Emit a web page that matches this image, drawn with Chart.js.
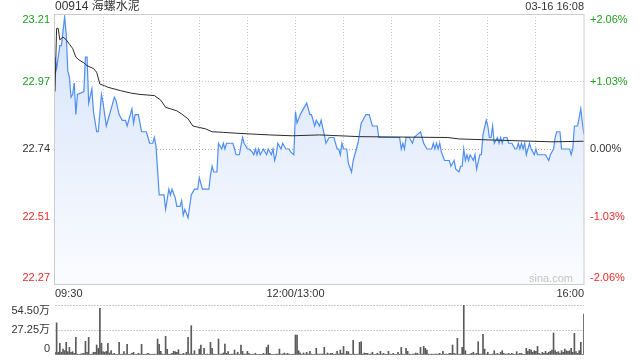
<!DOCTYPE html>
<html>
<head>
<meta charset="utf-8">
<script src="https://cdn.jsdelivr.net/npm/chart.js@4.4.1/dist/chart.umd.min.js"></script>
<style>
  html, body { margin: 0; padding: 0; background: #fff; }
  #wrap { position: relative; width: 640px; height: 360px; }
  #priceBox { position: absolute; left: 0; top: 0; width: 640px; height: 300px; }
  #volBox { position: absolute; left: 0; top: 300px; width: 640px; height: 60px; }
</style>
</head>
<body>
<div id="wrap">
  <div id="priceBox"><canvas id="priceChart"></canvas></div>
  <div id="volBox"><canvas id="volChart"></canvas></div>
</div>
<script>
const stockTitle = '00914 海螺水泥';
const stampText = '03-16 16:08';

// minutes after 09:30 in trading time (lunch break removed)
const priceMinutes = [0, 1, 3, 4, 6, 7, 8, 9, 10, 11, 12, 13, 14, 18, 19, 20, 21, 23, 24, 26,
  27, 29, 30, 32, 34, 35, 37, 38, 40, 42, 44, 45, 47, 48, 49, 50, 52, 54, 57, 58,
  59, 61, 62, 63, 65, 68, 69, 71, 72, 73, 75, 76, 78, 79, 80, 81, 83, 85, 87, 89,
  90, 92, 96, 97, 98, 99, 101, 102, 104, 105, 106, 107, 111, 113, 115, 117, 118, 120, 121, 123,
  124, 125, 126, 127, 128, 130, 132, 133, 135, 136, 137, 138, 139, 141, 142, 144, 146, 147, 149, 150,
  151, 153, 154, 156, 157, 159, 160, 162, 163, 164, 165, 166, 168, 169, 171, 174, 176, 177, 178, 179,
  180, 182, 183, 185, 186, 188, 189, 191, 192, 194, 196, 198, 201, 202, 215, 216, 217, 218, 219, 221,
  223, 224, 226, 228, 229, 230, 232, 235, 236, 237, 238, 239, 240, 241, 243, 246, 247, 249, 250, 252,
  253, 254, 255, 256, 257, 258, 259, 261, 262, 263, 265, 266, 267, 269, 270, 271, 272, 273, 274, 276,
  277, 278, 279, 280, 282, 283, 285, 287, 288, 289, 290, 291, 292, 293, 294, 295, 296, 297, 299, 300,
  301, 306, 308, 309, 311, 312, 313, 315, 316, 318, 321, 322, 323, 324, 326, 327, 328, 329, 330];
const priceValues = [23.06, 23.02, 23.10, 23.10, 23.20, 23.14, 23.01, 22.99, 22.92, 22.93, 22.97, 22.86, 22.93, 22.94, 23.06, 23.06, 22.90, 22.95, 22.87, 22.80,
  22.80, 22.93, 22.90, 22.82, 22.86, 22.88, 22.92, 22.91, 22.86, 22.84, 22.84, 22.82, 22.86, 22.88, 22.83, 22.86, 22.86, 22.80, 22.80, 22.78,
  22.76, 22.76, 22.78, 22.75, 22.58, 22.58, 22.53, 22.60, 22.58, 22.60, 22.57, 22.54, 22.54, 22.56, 22.51, 22.53, 22.50, 22.58, 22.60, 22.60,
  22.64, 22.60, 22.60, 22.65, 22.68, 22.66, 22.66, 22.76, 22.74, 22.76, 22.74, 22.76, 22.76, 22.72, 22.72, 22.78, 22.76, 22.74, 22.74, 22.73,
  22.72, 22.74, 22.72, 22.74, 22.72, 22.74, 22.72, 22.74, 22.72, 22.74, 22.70, 22.72, 22.76, 22.74, 22.76, 22.74, 22.74, 22.73, 22.72, 22.87,
  22.83, 22.86, 22.87, 22.89, 22.90, 22.86, 22.86, 22.82, 22.84, 22.83, 22.82, 22.84, 22.79, 22.76, 22.78, 22.78, 22.74, 22.74, 22.72, 22.76,
  22.74, 22.74, 22.69, 22.66, 22.70, 22.74, 22.76, 22.83, 22.84, 22.86, 22.86, 22.82, 22.82, 22.78, 22.78, 22.74, 22.76, 22.74, 22.78, 22.78,
  22.76, 22.78, 22.79, 22.80, 22.78, 22.76, 22.74, 22.74, 22.76, 22.74, 22.76, 22.74, 22.76, 22.73, 22.70, 22.70, 22.68, 22.70, 22.67, 22.66,
  22.68, 22.68, 22.74, 22.70, 22.72, 22.70, 22.72, 22.70, 22.72, 22.67, 22.72, 22.72, 22.79, 22.84, 22.82, 22.78, 22.78, 22.82, 22.76, 22.78,
  22.76, 22.78, 22.76, 22.78, 22.78, 22.76, 22.76, 22.74, 22.74, 22.76, 22.74, 22.76, 22.74, 22.76, 22.72, 22.74, 22.76, 22.74, 22.72, 22.74,
  22.72, 22.72, 22.70, 22.72, 22.74, 22.78, 22.80, 22.80, 22.74, 22.74, 22.74, 22.72, 22.74, 22.82, 22.82, 22.85, 22.88, 22.83, 22.79];

const avgMinutes = [0, 1, 2, 3, 5, 7, 9, 11, 13, 15, 18, 20, 24, 26, 28, 31, 33, 41, 47, 53,
  62, 66, 69, 72, 76, 79, 83, 86, 90, 94, 98, 105, 113, 123, 134, 148, 165, 190, 245, 252,
  280, 310, 330];
const avgValues = [22.94, 23.16, 23.16, 23.12, 23.13, 23.12, 23.105, 23.09, 23.06, 23.05, 23.04, 23.03, 23.02, 23.007, 22.966, 22.96, 22.955, 22.943, 22.935, 22.93,
  22.926, 22.91, 22.885, 22.88, 22.873, 22.862, 22.845, 22.82, 22.815, 22.81, 22.80, 22.798, 22.795, 22.792, 22.789, 22.786, 22.789, 22.783, 22.78, 22.775,
  22.77, 22.765, 22.767];

// one bar per minute, in 万股
const volumes = [
  3, 35, 3, 12.7, 3, 6.5, 4.7, 13.8, 3.6, 8.3,
  3, 3.6, 1.8, 19.2, 1, 0.7, 1, 1.5, 1.8, 14.9,
  3, 19.2, 0.7, 1, 3, 3, 10.9, 7.3, 50.8, 12.7,
  3.6, 3, 4, 12.7, 2.2, 4.7, 1, 1.8, 0.7, 0.4,
  13.8, 0.7, 1, 3.6, 1, 11.6, 0.4, 0.4, 1.8, 3,
  0.7, 0.4, 1.8, 1, 11.6, 0.4, 0.7, 1, 1.8, 1,
  0.7, 0.4, 1, 0.4, 17.4, 11.6, 4, 1, 0.7, 20.3,
  6.2, 0.7, 1, 1.8, 4, 3.6, 3, 5.8, 1, 0.7,
  1.8, 1, 3, 19.2, 1, 32, 1, 4.7, 0.4, 0.4,
  6.5, 10.9, 0.4, 7.3, 0.4, 1, 0.4, 13.8, 7.3, 1,
  0.7, 0.4, 17.4, 1, 1, 2.2, 12, 1.8, 3.6, 0.4,
  1, 1, 5.4, 1, 3, 0.4, 10.9, 4, 1, 1,
  4, 1.8, 0.4, 0.4, 0.4, 1.8, 0.4, 0.7, 0.7, 0.7,
  1.8, 1, 8.3, 10.9, 1.8, 0.4, 0.4, 0.4, 1, 1,
  6.5, 1, 1, 2.2, 1, 1.8, 1, 0.4, 0.7, 1,
  21.8, 21.8, 4.7, 2.2, 0.4, 2.2, 1, 3, 1, 4,
  1, 0.4, 0.7, 7.3, 1, 1, 1, 1, 8.3, 0.4,
  2.2, 1, 1.8, 1.8, 0.4, 1, 4, 1, 5.4, 1.8,
  9.4, 1, 4, 3.6, 1, 0.4, 16, 1, 0.4, 1,
  13.8, 14.5, 1, 2.2, 1.8, 1.8, 0.4, 1, 3, 0.4,
  0.4, 1.8, 0.4, 4, 1, 1.8, 0.4, 0.4, 4, 1,
  0.4, 1.8, 0.4, 0.4, 3, 0.4, 8.3, 1, 0.4, 7.3,
  4, 1, 0.4, 1, 1, 2.2, 1.8, 0.4, 8.3, 1,
  9.4, 7.3, 5.4, 1, 0.4, 1, 0.4, 1, 1, 1,
  1.8, 0.4, 4, 1, 1, 0.4, 1.8, 1.8, 10.9, 1.8,
  1, 18.2, 0.4, 1, 8.3, 54.5, 4.7, 0.4, 0.4, 1,
  1.8, 3, 1, 1.8, 14.5, 1, 1, 22.5, 6.5, 1,
  3, 0.4, 0.4, 1, 4.7, 1, 1.8, 0.4, 3, 4.7,
  1.8, 1, 1, 1.8, 0.4, 1.8, 1, 0.4, 3.6, 1,
  1.8, 1.8, 0.4, 0.4, 7.3, 4, 6.2, 5.4, 3, 4.7,
  4, 9.4, 1.8, 1, 3, 1.8, 4, 1.8, 3, 4,
  5.4, 24, 4.7, 3, 3.6, 1.8, 4.7, 3, 6.5, 4.7,
  4, 4.7, 7.3, 3, 23.6, 3.6, 1.8, 4.7, 13.8, 0.4,
  44.7
];

const priceTicks = [22.27, 22.505, 22.74, 22.975, 23.21];
const priceTickLabels = ['22.27', '22.51', '22.74', '22.97', '23.21'];
const pctTickLabels = ['-2.06%', '-1.03%', '0.00%', '+1.03%', '+2.06%'];
const timeTickMinutes = [0, 150, 330];
const timeTickLabels = ['09:30', '12:00/13:00', '16:00'];
const volTicks = [0, 27.25, 54.5];
const volTickLabels = ['0', '27.25万', '54.50万'];

const FONT = "'Liberation Sans', 'Noto Sans CJK SC', sans-serif";
const UP = '#1f9f1f', DOWN = '#ee2a2a', FLAT = '#333';
Chart.defaults.font.family = FONT;
Chart.defaults.font.size = 11;
Chart.defaults.color = '#333';

function levelColor(i, mid) {
  if (i > mid) return UP;
  if (i < mid) return DOWN;
  return FLAT;
}

function drawSideLabels(chart, ticks, leftLabels, rightLabels, colorFn) {
  const ctx = chart.ctx;
  const area = chart.chartArea;
  const scale = chart.scales.y;
  ctx.save();
  ctx.font = '11px ' + FONT;
  ctx.textBaseline = 'middle';
  ticks.forEach(function(v, i) {
    let y = scale.getPixelForValue(v);
    y = Math.min(Math.max(y, area.top + 6), area.bottom - 6);
    ctx.fillStyle = colorFn(i);
    ctx.textAlign = 'right';
    ctx.fillText(leftLabels[i], area.left - 5, y);
    if (rightLabels) {
      ctx.textAlign = 'left';
      ctx.fillText(rightLabels[i], area.right + 6, y);
    }
  });
  ctx.restore();
}

const priceDecor = {
  id: 'priceDecor',
  afterDatasetsDraw(chart) {
    const ctx = chart.ctx;
    const area = chart.chartArea;
    ctx.save();
    ctx.font = '11px ' + FONT;
    ctx.fillStyle = '#c4c4c4';
    ctx.textAlign = 'right';
    ctx.textBaseline = 'middle';
    ctx.fillText('sina.com', area.right - 11, area.bottom - 5);
    ctx.restore();
  },
  afterDraw(chart) {
    const ctx = chart.ctx;
    const area = chart.chartArea;
    ctx.save();
    ctx.strokeStyle = '#cccccc';
    ctx.lineWidth = 1;
    ctx.strokeRect(area.left - 0.5, area.top + 0.5, area.right - area.left + 0.5, area.bottom - area.top);
    ctx.fillStyle = '#333';
    ctx.textBaseline = 'middle';
    ctx.font = '12px ' + FONT;
    ctx.textAlign = 'left';
    ctx.fillText(stockTitle, area.left, 7);
    ctx.font = '11px ' + FONT;
    ctx.textAlign = 'right';
    ctx.fillText(stampText, area.right, 7);
    ctx.restore();
    drawSideLabels(chart, priceTicks, priceTickLabels, pctTickLabels, i => levelColor(i, 2));
  }
};

const volDecor = {
  id: 'volDecor',
  afterDraw(chart) {
    drawSideLabels(chart, volTicks, volTickLabels, null, () => '#333');
  }
};

new Chart(document.getElementById('priceChart'), {
  type: 'line',
  data: {
    datasets: [{
      label: 'avg',
      data: avgMinutes.map((m, i) => ({ x: m, y: avgValues[i] })),
      borderColor: '#2b2b2b',
      borderWidth: 1,
      pointRadius: 0,
      tension: 0,
      fill: false
    }, {
      label: 'price',
      data: priceMinutes.map((m, i) => ({ x: m, y: priceValues[i] })),
      borderColor: '#4f8ef2',
      borderWidth: 1.2,
      pointRadius: 0,
      tension: 0,
      fill: 'start',
      backgroundColor: function(c) {
        const area = c.chart.chartArea;
        if (!area) return 'rgba(0,0,0,0)';
        const g = c.chart.ctx.createLinearGradient(0, area.top, 0, area.bottom);
        g.addColorStop(0, '#d5e3fa');
        g.addColorStop(1, '#fbfcff');
        return g;
      }
    }]
  },
  options: {
    responsive: true,
    maintainAspectRatio: false,
    animation: false,
    events: [],
    layout: { padding: { left: 55, right: 56, top: 14, bottom: 0 } },
    plugins: { legend: { display: false }, tooltip: { enabled: false } },
    scales: {
      x: {
        type: 'linear',
        min: 0,
        max: 330,
        ticks: {
          stepSize: 30,
          align: 'inner',
          autoSkip: false,
          maxRotation: 0,
          padding: 3,
          color: '#333',
          callback: function(v) {
            const k = timeTickMinutes.indexOf(v);
            return k >= 0 ? timeTickLabels[k] : '';
          }
        },
        grid: {
          drawTicks: false,
          color: c => (c.index === 0 || c.index === 11) ? 'rgba(0,0,0,0)' : '#c4c4c4'
        },
        border: { display: false, dash: [1, 2] },
        afterFit: s => { s.height = 16; }
      },
      y: {
        min: 22.27,
        max: 23.21,
        afterBuildTicks: s => { s.ticks = priceTicks.map(v => ({ value: v })); },
        ticks: { display: false },
        grid: {
          drawTicks: false,
          color: c => c.index === 2 ? '#aaaaaa' : ((c.index === 0 || c.index === 4) ? 'rgba(0,0,0,0)' : '#c8c8c8')
        },
        border: { display: false, dash: [1, 2] },
        afterFit: s => { s.width = 0; }
      }
    }
  },
  plugins: [priceDecor]
});

new Chart(document.getElementById('volChart'), {
  type: 'bar',
  data: {
    datasets: [{
      data: volumes.map((v, i) => ({ x: i, y: v })),
      backgroundColor: '#5a5a5a',
      barThickness: 1
    }]
  },
  options: {
    responsive: true,
    maintainAspectRatio: false,
    animation: false,
    events: [],
    layout: { padding: { left: 55, right: 56, top: 5, bottom: 5 } },
    plugins: { legend: { display: false }, tooltip: { enabled: false } },
    scales: {
      x: { type: 'linear', min: 0, max: 330, offset: false, display: false },
      y: {
        min: 0,
        max: 54.5,
        afterBuildTicks: s => { s.ticks = volTicks.map(v => ({ value: v })); },
        ticks: { display: false },
        grid: {
          drawTicks: false,
          color: c => c.index === 0 ? 'rgba(0,0,0,0)' : '#cccccc'
        },
        border: { display: false, dash: [2, 1] },
        afterFit: s => { s.width = 0; }
      }
    }
  },
  plugins: [volDecor]
});
</script>
</body>
</html>
